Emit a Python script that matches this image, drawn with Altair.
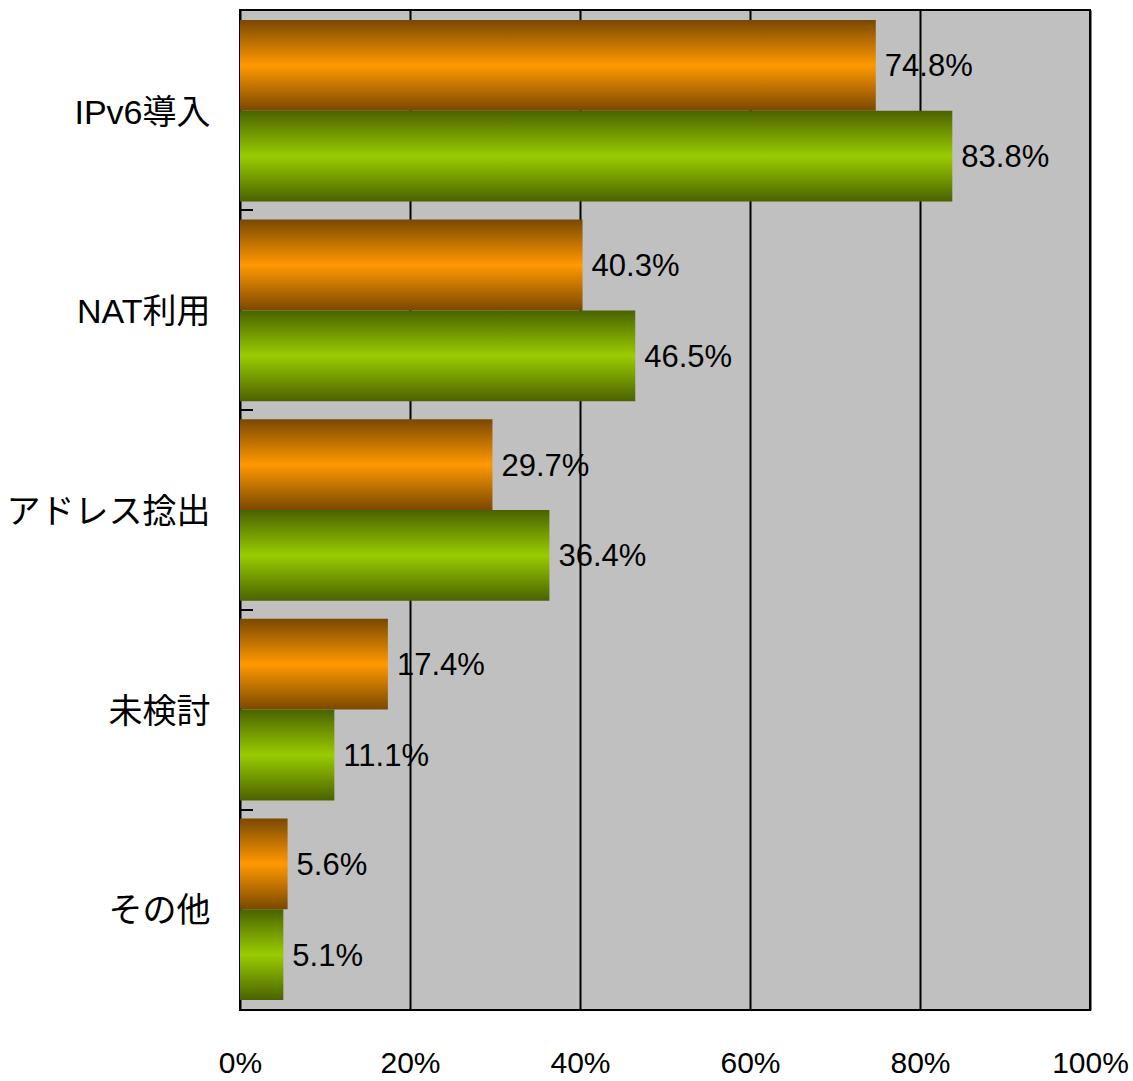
import altair as alt
import pandas as pd

categories = ["IPv6導入", "NAT利用", "アドレス捻出", "未検討", "その他"]
series_names = ["系列1", "系列2"]
series1_values = [74.8, 40.3, 29.7, 17.4, 5.6]
series2_values = [83.8, 46.5, 36.4, 11.1, 5.1]
x_tick_values = [0, 20, 40, 60, 80, 100]

rows = []
for c, a, b in zip(categories, series1_values, series2_values):
    rows.append({"cat": c, "series": series_names[0], "value": a / 100})
    rows.append({"cat": c, "series": series_names[1], "value": b / 100})
df = pd.DataFrame(rows)

bounds = pd.DataFrame({"b": list(range(len(categories) + 1))})

LABEL_FONT = "Liberation Sans, Arial, Noto Sans CJK JP, sans-serif"
CAT_FONT = "Liberation Sans, Arial, Noto Sans CJK JP, sans-serif"

def grad(dark, bright):
    return alt.Gradient(
        gradient="linear",
        x1=0, x2=0, y1=0, y2=1,
        stops=[
            alt.GradientStop(color=dark, offset=0),
            alt.GradientStop(color=bright, offset=0.5),
            alt.GradientStop(color=dark, offset=1),
        ],
    )

y_enc = alt.Y(
    "cat:N",
    sort=categories,
    scale=alt.Scale(domain=categories, paddingInner=0.09, paddingOuter=0.05),
    axis=alt.Axis(
        title=None, ticks=False, domain=False, labelFontSize=34, labelFont=CAT_FONT,
        labelColor="black", labelPadding=30, labelLimit=400, labelBaseline="middle",
        labelOffset=3,
    ),
)
yoff = alt.YOffset("series:N", scale=alt.Scale(domain=series_names, paddingInner=0, paddingOuter=0))
x_enc = alt.X(
    "value:Q",
    scale=alt.Scale(domain=[0, 1], nice=False),
    axis=alt.Axis(
        title=None, values=[v / 100 for v in x_tick_values], format=".0%", ticks=False, domain=False,
        grid=True, gridColor="black", gridWidth=2, gridOpacity=1, labelFlush=False,
        labelOverlap=False,
        labelFontSize=30, labelFont=LABEL_FONT, labelColor="black", labelPadding=38,
    ),
)

base = alt.Chart(df)

bars1 = base.transform_filter(alt.datum.series == series_names[0]).mark_bar(
    color=grad("#7a4800", "#ff9900")
).encode(x=x_enc, y=y_enc, yOffset=yoff)
bars2 = base.transform_filter(alt.datum.series == series_names[1]).mark_bar(
    color=grad("#4a6200", "#99cc00")
).encode(x=x_enc, y=y_enc, yOffset=yoff)

labels = base.mark_text(
    align="left", baseline="middle", dx=9, dy=2, fontSize=31, font=LABEL_FONT, color="black"
).encode(x=x_enc, y=y_enc, yOffset=yoff, text=alt.Text("value:Q", format=".1%"))

main = alt.layer(bars1, bars2, labels)

ticks = alt.Chart(bounds).mark_rule(color="black", strokeWidth=2).encode(
    y=alt.Y("b:Q", scale=alt.Scale(domain=[0, len(categories)], reverse=True, nice=False), axis=None),
    x=alt.value(0),
    x2=alt.value(13),
)

chart = (
    alt.layer(main, ticks)
    .resolve_scale(y="independent")
    .properties(
        width=850,
        height=1000,
        autosize=alt.AutoSizeParams(type="none"),
        padding={"left": 240, "top": 10, "right": 43, "bottom": 71},
        background="white",
    )
    .configure_view(fill="#c0c0c0", stroke="black", strokeWidth=2)
)

chart.save("out.html", embed_options={"renderer": "svg", "actions": False})
